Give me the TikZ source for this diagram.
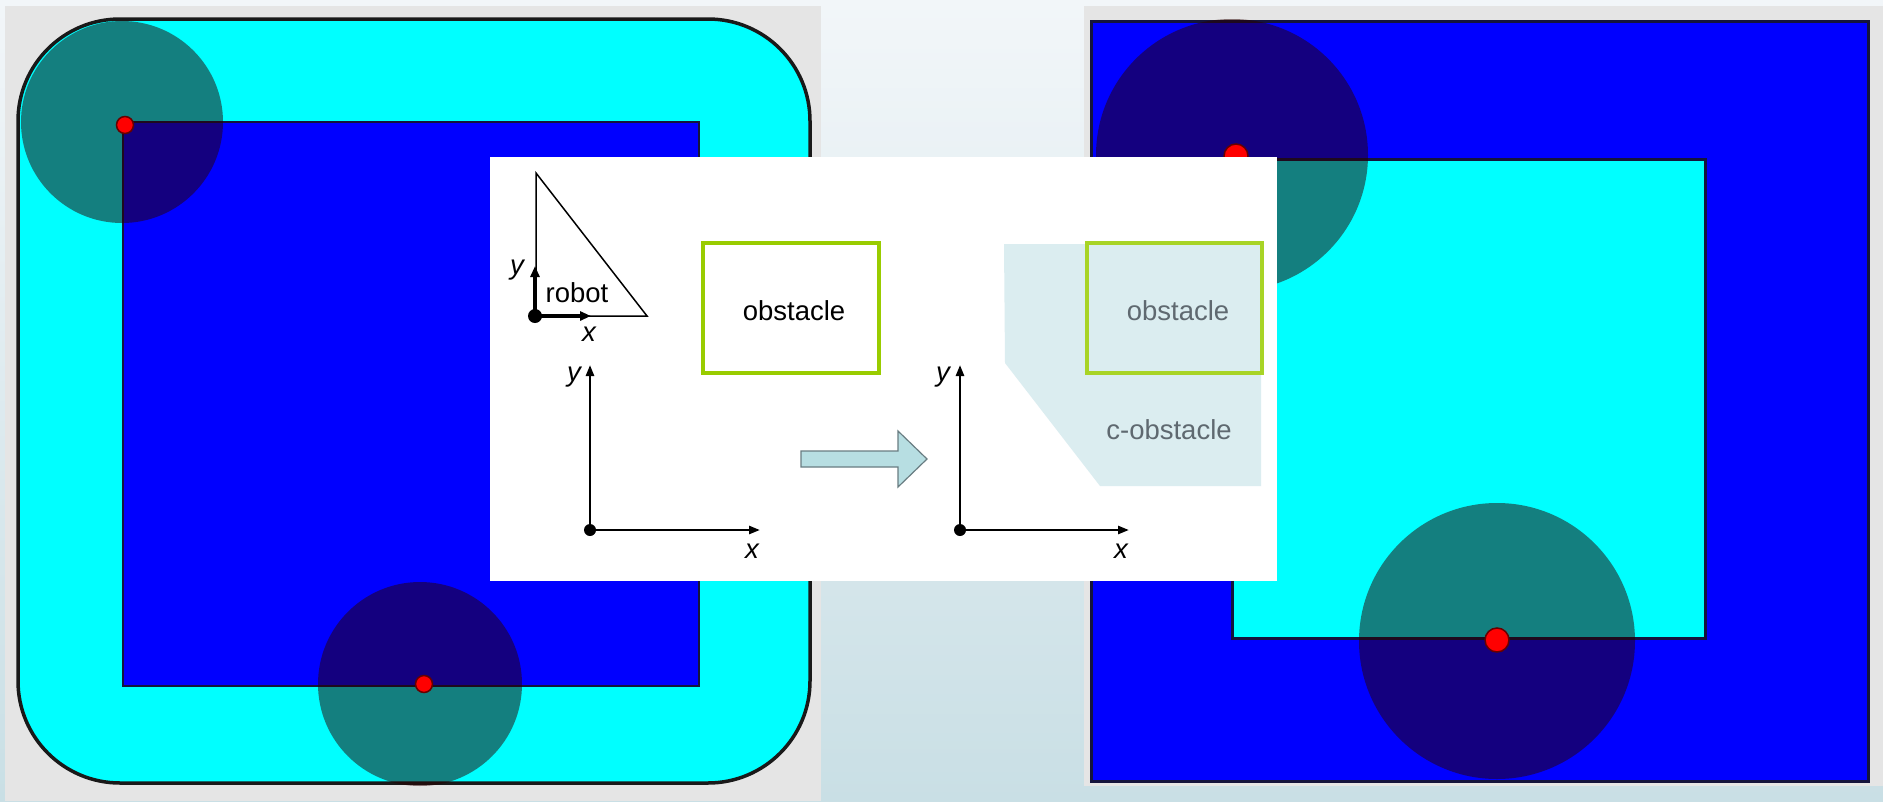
\documentclass[tikz,border=0pt]{standalone}
\usepackage{fontspec}
\setmainfont{Liberation Sans}
\usetikzlibrary{arrows.meta}
\definecolor{bgtop}{RGB}{242,246,249}
\definecolor{bgbot}{RGB}{201,223,229}
\definecolor{panelgray}{RGB}{229,229,229}
\definecolor{cyanfill}{RGB}{0,255,255}
\definecolor{bluefill}{RGB}{0,0,255}
\definecolor{shadecol}{RGB}{40,0,0}
\definecolor{obsgreen}{RGB}{153,204,0}
\definecolor{cobs}{RGB}{219,237,240}
\definecolor{arrowfill}{RGB}{183,222,226}
\definecolor{arrowedge}{RGB}{105,125,130}
\definecolor{graytext}{RGB}{95,105,112}
\definecolor{rectedge}{RGB}{20,20,60}
\begin{document}
\begin{tikzpicture}[x=1pt,y=-1pt,
  lbl/.style={font=\fontsize{27.5}{33}\selectfont, inner sep=0pt},
  axlbl/.style={font=\fontsize{27.5}{33}\selectfont\itshape, inner sep=0pt},
  shadow/.style={fill=shadecol, fill opacity=0.5},
  reddot/.style={fill=red, draw=black!60!red, line width=1.5pt},
  axis/.style={line width=2.5pt, -{Triangle[length=11pt,width=8pt]}},
  frame/.style={line width=4pt, -{Triangle[length=11pt,width=9pt]}},
  obsbox/.style={draw=obsgreen, line width=3.5pt},
]
\useasboundingbox (0,0) rectangle (1883,801);
% background
\shade[top color=bgtop, bottom color=bgbot] (0,0) rectangle (1883,801);

% ---------- left panel ----------
\fill[panelgray] (5,6) rectangle (821,801);
\filldraw[fill=cyanfill, draw=black!90, line width=3.5pt, rounded corners=102pt] (18,19) rectangle (810,783);
\filldraw[fill=bluefill, draw=rectedge, line width=2pt] (123,122) rectangle (699,686);
\fill[shadow] (122,122) circle[radius=101pt];
\fill[shadow] (420,684) circle[radius=102pt];
\filldraw[reddot] (125,125) circle[radius=8.5pt];
\filldraw[reddot] (424,684) circle[radius=8.5pt];

% ---------- right panel ----------
\fill[panelgray] (1084,6) rectangle (1883,786);
\filldraw[fill=bluefill, draw=rectedge, line width=3pt] (1091,21) rectangle (1868,781);
\filldraw[fill=cyanfill, draw=rectedge, line width=3pt] (1232,159) rectangle (1705,638);
\fill[shadow] (1232,155) circle[radius=136pt];
\fill[shadow] (1497,641) circle[radius=138pt];
\filldraw[reddot] (1236,156) circle[radius=12pt];
\filldraw[reddot] (1497,640) circle[radius=12pt];

% ---------- white overlay panel ----------
\fill[white] (490,157) rectangle (1277,581);

% robot
\draw[line width=1.5pt, line join=miter] (536,173) -- (536,316) -- (647,316) -- cycle;
\coordinate (ro) at (535,316);
\coordinate (rx) at (591,316);
\coordinate (ry) at (535,266);
\draw[frame] (ro) -- (rx);
\draw[frame] (ro) -- (ry);
\fill (ro) circle[radius=7pt];
\node[axlbl] (rylbl) at (517,270) {y};
\node[axlbl] (rxlbl) at (589,334) {x};
\node[lbl] (robot) at (577,293) {robot};

% obstacle (left)
\draw[obsbox] (703,243) rectangle (879,373);
\node[lbl] (obs1) at (794,311) {obstacle};

% left axes
\coordinate (o1) at (590,530);
\coordinate (y1) at (590,365);
\coordinate (x1) at (760,530);
\draw[axis] (o1) -- (y1);
\draw[axis] (o1) -- (x1);
\fill (o1) circle[radius=6pt];
\node[axlbl] (y1lbl) at (574,377) {y};
\node[axlbl] (x1lbl) at (752,551) {x};

% block arrow
\filldraw[fill=arrowfill, draw=arrowedge, line width=1.2pt, line join=miter]
  (801,451) -- (898,451) -- (898,431) -- (927,459) -- (898,487) -- (898,467) -- (801,467) -- cycle;

% c-obstacle
\fill[cobs] (1004,244) -- (1261,244) -- (1261,486) -- (1100,486) -- (1005,363) -- cycle;
\draw[draw=obsgreen!85!white, line width=3.5pt] (1087,243) rectangle (1262,373);
\node[lbl, text=graytext] (obs2) at (1178,311) {obstacle};
\node[lbl, text=graytext] (cobst) at (1169,430) {c-obstacle};

% right axes
\coordinate (o2) at (960,530);
\coordinate (y2) at (960,365);
\coordinate (x2) at (1129,530);
\draw[axis] (o2) -- (y2);
\draw[axis] (o2) -- (x2);
\fill (o2) circle[radius=6pt];
\node[axlbl] (y2lbl) at (943,377) {y};
\node[axlbl] (x2lbl) at (1121,551) {x};
\end{tikzpicture}
\end{document}
